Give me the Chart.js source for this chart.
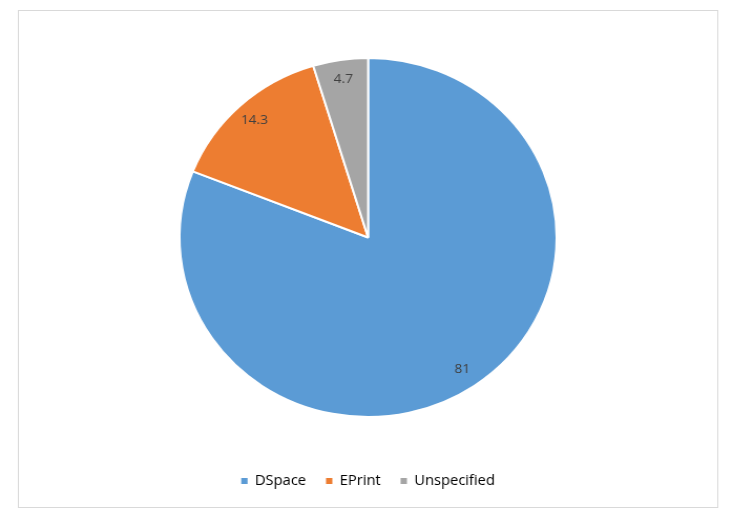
<!DOCTYPE html>
<html>
<head>
<meta charset="utf-8">
<script src="https://cdn.jsdelivr.net/npm/chart.js@4/dist/chart.umd.min.js"></script>
<style>
  html, body { margin: 0; padding: 0; background: #fff; }
  #wrap { width: 733px; height: 522px; }
</style>
</head>
<body>
<div id="wrap">
  <!-- the original picture is a little wider than tall, so the canvas is stretched a bit -->
  <canvas id="pie" width="698" height="522" style="width:733px;height:522px;display:block"></canvas>
</div>
<script>
// data
const categories = ['DSpace', 'EPrint', 'Unspecified'];
const shares = [81, 14.3, 4.7];
const sliceColors = ['#5B9BD5', '#ED7D31', '#A5A5A5'];

const FONT = '"Open Sans", "DejaVu Sans", sans-serif';

// grey frame round the whole chart
const framePlugin = {
    id: 'frame',
    beforeDraw(chart) {
        const ctx = chart.ctx;
        ctx.save();
        ctx.fillStyle = '#fff';
        ctx.fillRect(0, 0, chart.width, chart.height);
        ctx.strokeStyle = '#d9d9d9';
        ctx.lineWidth = 1;
        ctx.strokeRect(17.5, 10.5, 666, 497);
        ctx.restore();
    }
};

// value labels near the outer edge of each slice
const sliceLabels = {
    id: 'sliceLabels',
    afterDatasetsDraw(chart) {
        const ctx = chart.ctx;
        const meta = chart.getDatasetMeta(0);
        ctx.save();
        ctx.font = '13px ' + FONT;
        ctx.fillStyle = '#404040';
        ctx.textAlign = 'center';
        ctx.textBaseline = 'middle';
        meta.data.forEach((arc, i) => {
            const p = arc.getProps(['x', 'y', 'startAngle', 'endAngle', 'outerRadius'], true);
            const mid = (p.startAngle + p.endAngle) / 2;
            const r = p.outerRadius * 0.89;
            ctx.fillText(String(shares[i]), p.x + Math.cos(mid) * r, p.y + Math.sin(mid) * r);
        });
        ctx.restore();
    }
};

new Chart(document.getElementById('pie'), {
    type: 'pie',
    data: {
        labels: categories,
        datasets: [{
            data: shares,
            backgroundColor: sliceColors,
            borderColor: '#ffffff',
            borderWidth: 2
        }]
    },
    options: {
        responsive: false,
        animation: false,
        devicePixelRatio: 1,
        layout: { padding: { top: 20, left: 170, right: 167, bottom: 24 } },
        plugins: {
            tooltip: { enabled: false },
            legend: {
                position: 'bottom',
                labels: {
                    boxWidth: 6,
                    boxHeight: 6,
                    padding: 19,
                    color: '#595959',
                    font: { family: FONT, size: 14 },
                    generateLabels: () => categories.map((c, i) => ({
                        text: c,
                        fillStyle: sliceColors[i],
                        strokeStyle: sliceColors[i],
                        lineWidth: 0,
                        index: i
                    }))
                }
            }
        }
    },
    plugins: [framePlugin, sliceLabels]
});
</script>
</body>
</html>
